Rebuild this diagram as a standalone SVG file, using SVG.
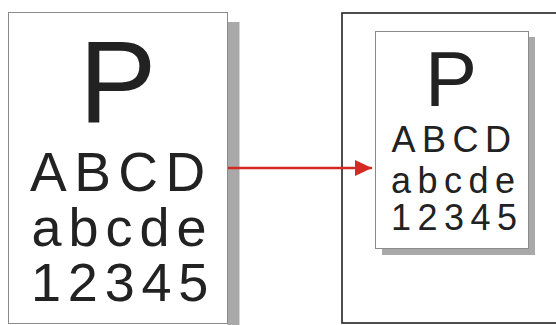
<svg xmlns="http://www.w3.org/2000/svg" width="556" height="325" viewBox="0 0 556 325">
<defs>
<style>
.page{fill:#fff;stroke:#8a8a8a;stroke-width:1}
.shadow{fill:#a9a9a9}
.t{font-family:"Liberation Sans",Arial,sans-serif;fill:#222}
.frame{fill:#fff;stroke:#222;stroke-width:1.6}
.conn{stroke:#d42a22;stroke-width:2.4;fill:none}
</style>
<marker id="ah" markerWidth="17" markerHeight="16" refX="17" refY="8" orient="auto" markerUnits="userSpaceOnUse">
<path d="M0,0 L17,8 L0,16 Z" fill="#d42a22"/>
</marker>
</defs>
<rect width="556" height="325" fill="#fff"/>
<g id="source-page">
<rect class="shadow" x="227.5" y="22" width="12" height="310"/>
<rect class="page" x="8.5" y="12.5" width="219" height="311"/>
<text class="t" x="79" y="122" font-size="116">P</text>
<text class="t" x="30" y="191" font-size="55" letter-spacing="7.5">ABCD</text>
<text class="t" x="31.5" y="246" font-size="54" letter-spacing="7">abcde</text>
<text class="t" x="31" y="301" font-size="54" letter-spacing="6.8">12345</text>
</g>
<g id="target-frame">
<rect class="frame" x="342" y="13" width="230" height="310"/>
<rect class="shadow" x="382" y="37" width="153" height="218"/>
<rect class="page" x="375.5" y="31.5" width="153" height="217"/>
<text class="t" x="425" y="106" font-size="78">P</text>
<text class="t" x="391.5" y="152" font-size="36" letter-spacing="6.5">ABCD</text>
<text class="t" x="391" y="193" font-size="36" letter-spacing="6.5">abcde</text>
<text class="t" x="391" y="230" font-size="36" letter-spacing="6.5">12345</text>
</g>
<g id="connectors">
<line class="conn" x1="228" y1="168" x2="372" y2="168" marker-end="url(#ah)"/>
</g>
</svg>
